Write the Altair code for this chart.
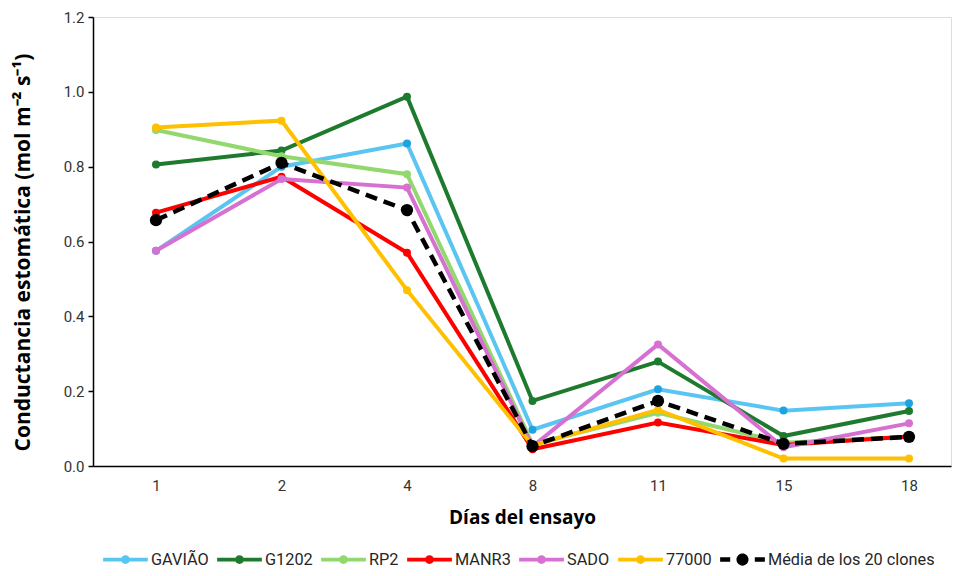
import altair as alt
import pandas as pd

days = ["1", "2", "4", "8", "11", "15", "18"]
series = ["GAVIÃO", "G1202", "RP2", "MANR3", "SADO", "77000", "Média de los 20 clones"]

gaviao = [0.575, 0.800, 0.862, 0.097, 0.205, 0.148, 0.168]
g1202 = [0.806, 0.843, 0.987, 0.174, 0.279, 0.080, 0.147]
rp2 = [0.898, 0.828, 0.780, 0.058, 0.142, 0.062, 0.078]
manr3 = [0.677, 0.773, 0.570, 0.045, 0.116, 0.056, 0.079]
sado = [0.575, 0.767, 0.744, 0.052, 0.325, 0.050, 0.114]
s77000 = [0.905, 0.923, 0.470, 0.055, 0.150, 0.020, 0.020]
media = [0.657, 0.810, 0.684, 0.053, 0.174, 0.059, 0.078]

values = [gaviao, g1202, rp2, manr3, sado, s77000, media]

line_colors = ["#5BC5F2", "#1E7B2E", "#92D86F", "#FF0000", "#D671D1", "#FFC000", "#000000"]
dot_colors = ["#1FA3E0", "#1E7B2E", "#92D86F", "#FF0000", "#D671D1", "#FFC000", "#000000"]
dot_sizes = [64, 64, 64, 64, 64, 64, 150]

# legend symbols: a line with a dot in the middle (dashed for the mean)
solid_sym = "M-1,-0.085H1V0.085H-1Z M0.2,0A0.2,0.2,0,1,1,-0.2,0A0.2,0.2,0,1,1,0.2,0Z"
dashed_sym = ("M-1,-0.1H-0.55V0.1H-1Z M0.55,-0.1H1V0.1H0.55Z "
              "M0.27,0A0.27,0.27,0,1,1,-0.27,0A0.27,0.27,0,1,1,0.27,0Z")
legend_shapes = [solid_sym] * 6 + [dashed_sym]

rows = []
for s, vals in zip(series, values):
    for d, v in zip(days, vals):
        rows.append({"day": d, "serie": s, "value": v})
df = pd.DataFrame(rows)

x_enc = alt.X(
    "day:N",
    sort=days,
    scale=alt.Scale(type="point", padding=0.4183, align=0.6),
    axis=alt.Axis(
        title="Días del ensayo",
        labelAngle=0,
        ticks=False,
        labelPadding=12,
        titlePadding=15,
        domainColor="#000000",
        domainWidth=1.5,
        labelFont="Roboto",
        labelFontSize=15,
        labelColor="#333333",
        titleFont="Open Sans",
        titleFontSize=19,
        titleFontWeight="bold",
        titleColor="#000000",
    ),
)
y_enc = alt.Y(
    "value:Q",
    scale=alt.Scale(domain=[0, 1.2], nice=False),
    axis=alt.Axis(
        title="Conductancia estomática (mol m⁻² s⁻¹)",
        values=[0, 0.2, 0.4, 0.6, 0.8, 1.0, 1.2],
        format=".1f",
        grid=False,
        tickSize=5,
        tickColor="#000000",
        tickWidth=1.5,
        domainColor="#000000",
        domainWidth=1.5,
        labelPadding=4,
        labelFont="Roboto",
        labelFontSize=15,
        labelColor="#333333",
        titleFont="Open Sans",
        titleFontSize=21,
        titleFontWeight="bold",
        titleColor="#000000",
        titleX=-60,
        titleY=235,
    ),
)

base = alt.Chart(df)

legend = alt.Legend(
    title=None,
    orient="none",
    legendX=10,
    legendY=520,
    direction="horizontal",
    symbolSize=2000,
    symbolStrokeWidth=0,
    labelFont="Roboto",
    labelFontSize=16.3,
    labelColor="#262626",
    labelOffset=3,
    labelLimit=400,
    columnPadding=8,
)
legend_layer = base.transform_filter("datum.value < 0").mark_point(filled=True, opacity=1).encode(
    x=x_enc,
    y=y_enc,
    color=alt.Color("serie:N", scale=alt.Scale(domain=series, range=line_colors), legend=legend),
    shape=alt.Shape("serie:N", scale=alt.Scale(domain=series, range=legend_shapes), legend=legend),
)

layers = [legend_layer]
for i, s in enumerate(series):
    sub = base.transform_filter(alt.datum.serie == s)
    kw = dict(strokeWidth=4, color=line_colors[i])
    if i == len(series) - 1:
        kw["strokeDash"] = [12, 7]
        kw["strokeWidth"] = 4.5
    line = sub.mark_line(**kw).encode(x=x_enc, y=y_enc)
    pts = sub.mark_circle(size=dot_sizes[i], opacity=1, color=dot_colors[i]).encode(x=x_enc, y=y_enc)
    layers += [line, pts]

chart = (
    alt.layer(*layers)
    .properties(
        width=858,
        height=449,
        autosize=alt.AutoSizeParams(type="none"),
        padding={"left": 85, "top": 9, "right": 1, "bottom": 102},
    )
    .configure_view(stroke=None)
    .configure(background="#ffffff")
)

chart.save("out.html", embed_options={"renderer": "svg", "actions": False})
